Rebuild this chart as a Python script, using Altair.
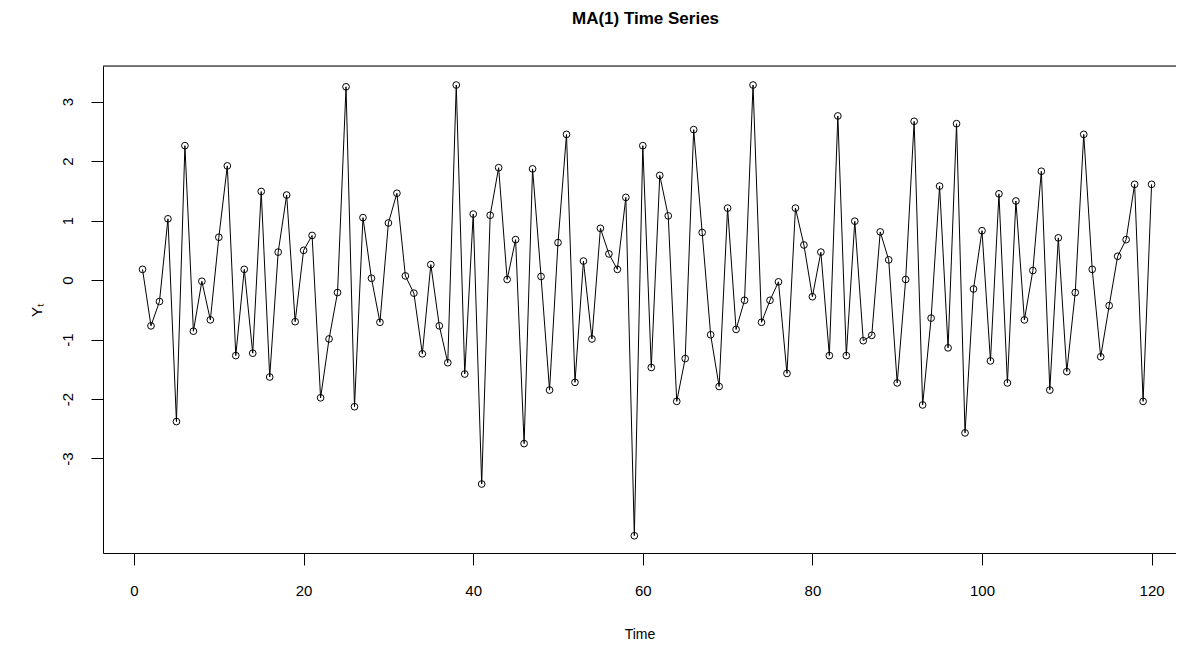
import altair as alt
import pandas as pd

time_index = list(range(1, 121))
y_values = [
    0.18, -0.77, -0.36, 1.03, -2.38, 2.26, -0.86, -0.02, -0.67, 0.72,
    1.92, -1.27, 0.18, -1.23, 1.49, -1.63, 0.47, 1.43, -0.70, 0.50,
    0.75, -1.98, -0.99, -0.21, 3.25, -2.13, 1.05, 0.03, -0.71, 0.96,
    1.46, 0.07, -0.22, -1.24, 0.26, -0.77, -1.39, 3.28, -1.58, 1.11,
    -3.43, 1.09, 1.89, 0.01, 0.68, -2.75, 1.87, 0.06, -1.85, 0.63,
    2.45, -1.72, 0.32, -0.99, 0.87, 0.44, 0.18, 1.39, -4.30, 2.26,
    -1.47, 1.76, 1.08, -2.04, -1.32, 2.53, 0.80, -0.92, -1.79, 1.21,
    -0.83, -0.34, 3.28, -0.71, -0.34, -0.03, -1.57, 1.21, 0.59, -0.28,
    0.47, -1.27, 2.76, -1.27, 0.99, -1.02, -0.93, 0.81, 0.34, -1.73,
    0.01, 2.67, -2.10, -0.64, 1.58, -1.14, 2.63, -2.57, -0.15, 0.83,
    -1.36, 1.45, -1.73, 1.33, -0.67, 0.16, 1.83, -1.85, 0.71, -1.54,
    -0.21, 2.45, 0.18, -1.29, -0.43, 0.40, 0.68, 1.61, -2.04, 1.61,
]
x_ticks = [0, 20, 40, 60, 80, 100, 120]
y_ticks = [-3, -2, -1, 0, 1, 2, 3]

df = pd.DataFrame({"Time": time_index, "Y": y_values})

W = 1073
H = 487
FONT = "Liberation Sans"

xscale = alt.Scale(domain=[-3.66, 122.88], nice=False, zero=False)
yscale = alt.Scale(domain=[-4.59, 3.60], nice=False, zero=False)

xenc = alt.X(
    "Time:Q", scale=xscale,
    axis=alt.Axis(values=x_ticks, labelExpr="'' + datum.value", title="Time",
                  grid=False, tickSize=12,
                  labelPadding=18, titlePadding=29, labelFontSize=15,
                  titleFontSize=14, titleFontWeight="normal",
                  labelFont=FONT, titleFont=FONT, domainColor="black",
                  tickColor="black", labelColor="black", titleColor="black",
                  labelFlush=False),
)
yenc = alt.Y(
    "Y:Q", scale=yscale,
    axis=alt.Axis(values=y_ticks, labelExpr="'' + datum.value", title="Yₜ",
                  grid=False, tickSize=12,
                  labelAngle=270, labelPadding=16, titlePadding=16,
                  labelFontSize=15, titleFontSize=15, titleFontWeight="normal",
                  labelFont=FONT, titleFont=FONT, domainColor="black",
                  tickColor="black", labelColor="black", titleColor="black",
                  labelFlush=False),
)

base = alt.Chart(df)
line = base.mark_line(color="black", strokeWidth=1).encode(x=xenc, y=yenc)
pts = base.mark_point(shape="circle", filled=False, color="black", size=45,
                      strokeWidth=1, opacity=1).encode(x="Time:Q", y="Y:Q")
top_border = alt.Chart(pd.DataFrame({"a": [0]})).mark_rule(
    color="black", strokeWidth=1
).encode(x=alt.value(0), x2=alt.value(W), y=alt.value(0))

chart = alt.layer(line, pts, top_border).properties(
    width=W, height=H,
    title=alt.TitleParams("MA(1) Time Series", fontSize=17, fontWeight="bold",
                          font=FONT, color="black", offset=38, dx=6),
    autosize=alt.AutoSizeParams(type="none"),
    padding={"left": 95, "top": 58, "right": 0, "bottom": 88},
).configure_view(stroke=None).configure(background="white")

chart.save("out.html", embed_options={"renderer": "svg", "actions": False})
